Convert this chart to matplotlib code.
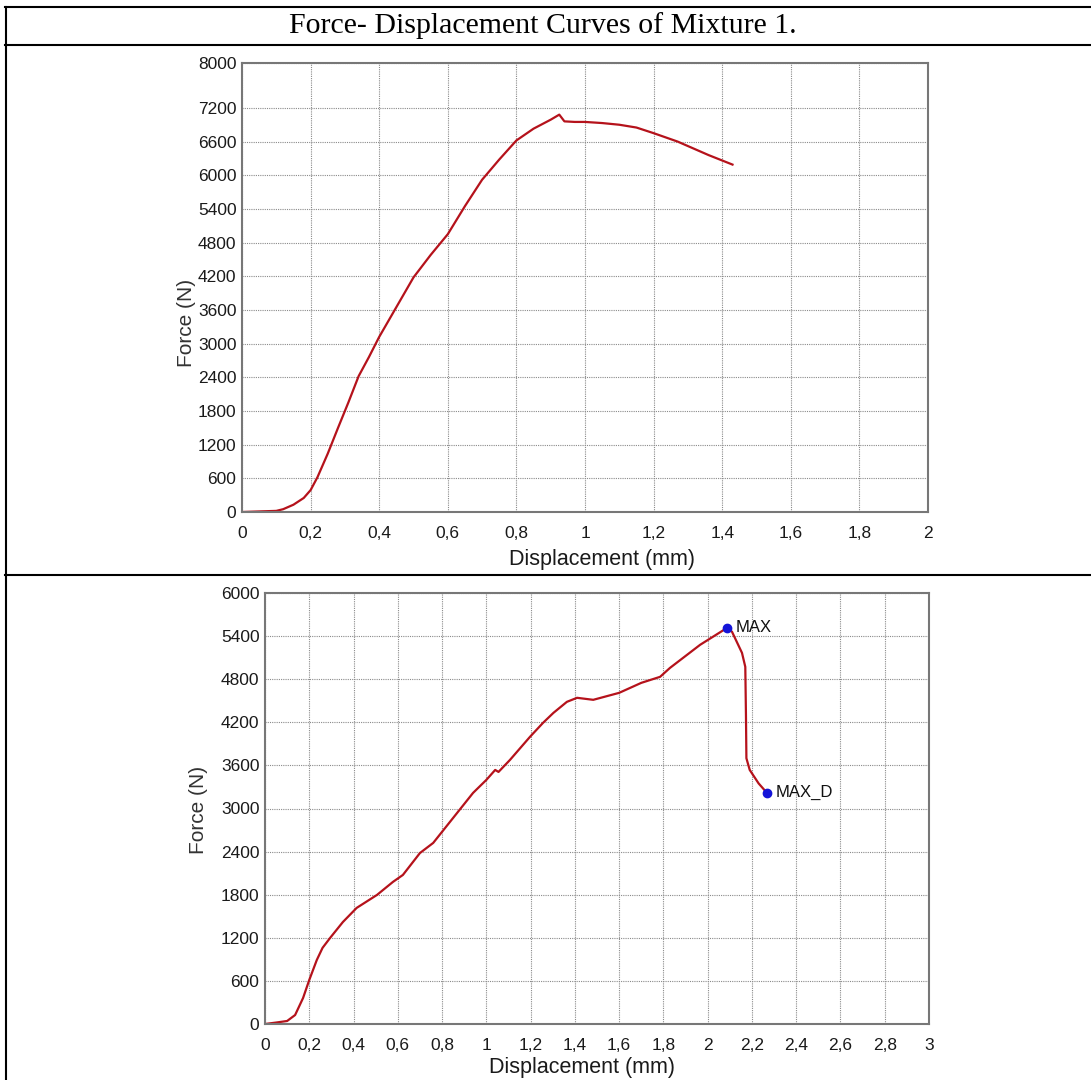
import numpy as np
import matplotlib.pyplot as plt
from matplotlib.lines import Line2D

# --- data ---
disp_1 = [0, 0.05, 0.10, 0.12, 0.15, 0.18, 0.20, 0.22, 0.25, 0.28, 0.31, 0.34, 0.37,
          0.40, 0.45, 0.50, 0.55, 0.60, 0.65, 0.70, 0.75, 0.80, 0.85, 0.90, 0.925,
          0.94, 0.97, 1.0, 1.05, 1.10, 1.15, 1.20, 1.27, 1.36, 1.43]
force_1 = [0, 10, 20, 50, 130, 250, 390, 620, 1040, 1500, 1950, 2420, 2760,
           3120, 3650, 4180, 4580, 4950, 5450, 5920, 6280, 6620, 6830, 6990, 7080,
           6960, 6950, 6950, 6930, 6900, 6850, 6750, 6600, 6360, 6190]

disp_2 = [0, 0.05, 0.10, 0.136, 0.172, 0.20, 0.234, 0.26, 0.294, 0.352, 0.414, 0.506, 0.578,
          0.623, 0.70, 0.76, 0.85, 0.94, 1.00, 1.04, 1.055, 1.107, 1.197, 1.256, 1.303,
          1.364, 1.41, 1.483, 1.60, 1.70, 1.785, 1.83, 1.966, 2.088, 2.11, 2.155, 2.17,
          2.173, 2.175, 2.19, 2.23, 2.268]
force_2 = [0, 20, 42, 125, 362, 613, 891, 1060, 1198, 1420, 1616, 1797, 1978,
           2075, 2380, 2521, 2869, 3217, 3398, 3537, 3509, 3677, 3997, 4192, 4331,
           4485, 4541, 4513, 4610, 4749, 4833, 4958, 5279, 5515, 5460, 5167, 4972,
           4300, 3700, 3537, 3350, 3217]

max_pt = (2.088, 5515)
max_d_pt = (2.268, 3217)
point_names = ["MAX", "MAX_D"]

yticks_1 = list(range(0, 7201, 600)) + [8000]
xticks_1 = [0, 0.2, 0.4, 0.6, 0.8, 1, 1.2, 1.4, 1.6, 1.8, 2]
yticks_2 = list(range(0, 6001, 600))
xticks_2 = [0, 0.2, 0.4, 0.6, 0.8, 1, 1.2, 1.4, 1.6, 1.8, 2, 2.2, 2.4, 2.6, 2.8, 3]

title = "Force- Displacement Curves of Mixture 1."
xlab = "Displacement (mm)"
ylab = "Force (N)"

W, H = 1091, 1080
plt.rcParams['font.family'] = ['Liberation Sans', 'DejaVu Sans']
fig = plt.figure(figsize=(W / 100, H / 100), dpi=100)

def fx(px):
    return px / W

def fy(py):
    return 1 - py / H

def comma(v):
    s = ('%g' % v)
    return s.replace('.', ',')

def style_axes(ax, xt, yt, xmax, ymax):
    ax.set_xlim(0, xmax)
    ax.set_ylim(0, ymax)
    ax.set_xticks(xt)
    ax.set_xticklabels([comma(v) for v in xt])
    ax.set_yticks(yt)
    ax.set_yticklabels([str(v) for v in yt])
    ax.tick_params(length=0, labelsize=12.5, labelcolor='#1a1a1a')
    ax.tick_params(axis='x', pad=10)
    ax.tick_params(axis='y', pad=4)
    ax.grid(True, color='#8a8a8a', linestyle=(0, (1, 1)), linewidth=0.8)
    for sp in ax.spines.values():
        sp.set_color('#777777')
        sp.set_linewidth(1.5)

# top panel
ax1 = fig.add_axes([fx(242), fy(512), fx(928) - fx(242), fy(63) - fy(512)])
ax1.plot(disp_1, force_1, color='#B5121B', lw=1.6)
style_axes(ax1, xticks_1, yticks_1, 2, 8000)
fig.text(fx(602), fy(560), xlab, ha='center', va='center', fontsize=15.5, color='#1a1a1a')
fig.text(fx(187), fy(323), ylab, ha='center', va='center', rotation=90, fontsize=15, color='#333333')

# bottom panel
ax2 = fig.add_axes([fx(265), fy(1024), fx(929) - fx(265), fy(593) - fy(1024)])
ax2.plot(disp_2, force_2, color='#B5121B', lw=1.6)
ax2.plot([max_pt[0], max_d_pt[0]], [max_pt[1], max_d_pt[1]], 'o', color='#1414D8',
         markersize=6, linestyle='none', zorder=5)
for name, p in zip(point_names, [max_pt, max_d_pt]):
    ax2.annotate(name, p, xytext=(6, 0), textcoords='offset points', va='center',
                 ha='left', fontsize=12, color='#111111')
style_axes(ax2, xticks_2, yticks_2, 3, 6000)
fig.text(fx(582), fy(1068), xlab, ha='center', va='center', fontsize=15.5, color='#1a1a1a')
fig.text(fx(198), fy(810), ylab, ha='center', va='center', rotation=90, fontsize=15, color='#333333')

# table frame
fig.text(fx(543), fy(26), title, ha='center', va='center', fontsize=21.5,
         family=['Liberation Serif', 'DejaVu Serif'], color='black')
for yy in [7, 45, 575]:
    fig.add_artist(Line2D([fx(5), 1], [fy(yy), fy(yy)], color='black', lw=1.5))
fig.add_artist(Line2D([fx(6), fx(6)], [fy(7), 0], color='black', lw=1.5))

fig.savefig('out.png', dpi=100)
